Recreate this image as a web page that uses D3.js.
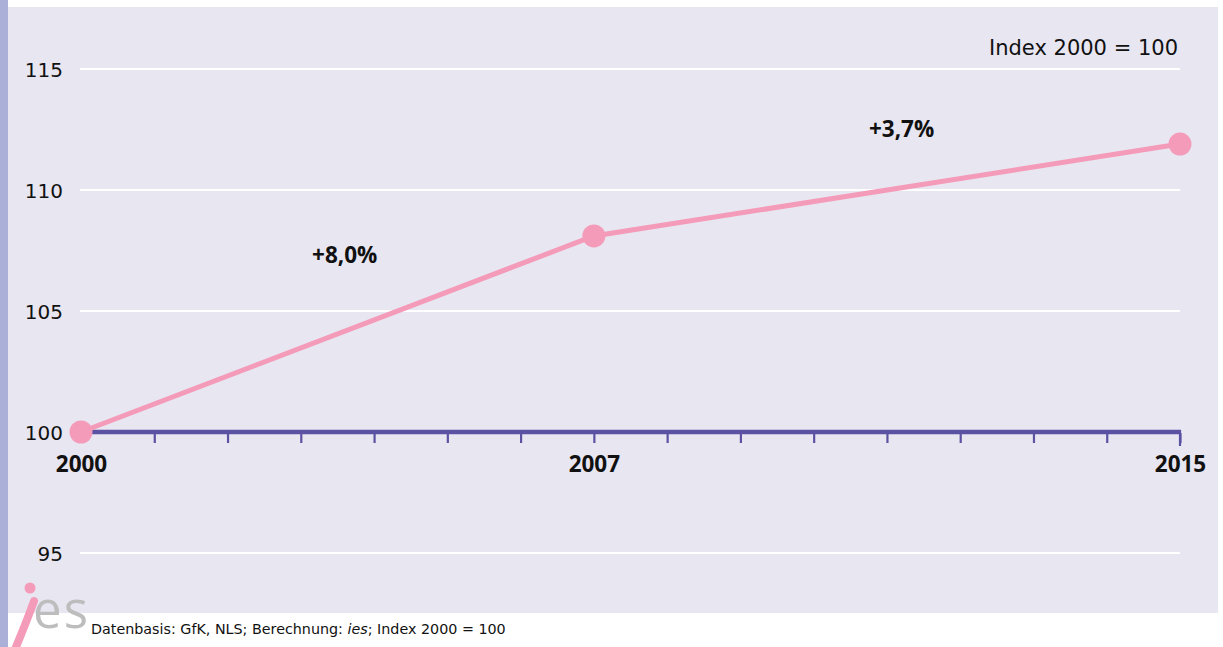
<!DOCTYPE html>
<html>
<head>
<meta charset="utf-8">
<script src="https://cdn.jsdelivr.net/npm/d3@7"></script>
<style>
  html, body { margin: 0; padding: 0; background: #fff; }
  svg { display: block; font-family: "DejaVu Sans", sans-serif; }
</style>
</head>
<body>
<div id="chart"></div>
<script>
// data
const years = [2000, 2007, 2015];
const indexValues = [100, 108.1, 111.9];
const changeLabels = ["+8,0%", "+3,7%"];
const yTicks = [95, 100, 105, 110, 115];
const labelledYears = [2000, 2007, 2015];

const width = 1223;
const height = 647;

const svg = d3.select("#chart").append("svg")
    .attr("width", width)
    .attr("height", height);

// background panel + left strip
svg.append("rect")
    .attr("x", 8).attr("y", 7)
    .attr("width", 1210).attr("height", 606)
    .attr("fill", "#e8e6f1");
svg.append("rect")
    .attr("x", 0).attr("y", 0)
    .attr("width", 8).attr("height", height)
    .attr("fill", "#aab0d8");

const x = d3.scaleLinear().domain([2000, 2015]).range([81, 1180]);
const y = d3.scaleLinear().domain([95, 115]).range([553, 69]);

// gridlines
svg.append("g")
    .selectAll("line")
    .data(yTicks)
    .join("line")
    .attr("x1", 80)
    .attr("x2", 1180)
    .attr("y1", d => y(d))
    .attr("y2", d => y(d))
    .attr("stroke", "#fff")
    .attr("stroke-width", 2);

// y labels
svg.append("g")
    .selectAll("text")
    .data(yTicks)
    .join("text")
    .attr("x", 63)
    .attr("y", d => y(d) + 8)
    .attr("text-anchor", "end")
    .style("font-size", "20px")
    .attr("fill", "#111")
    .text(d => d);

// x axis at 100
const xAxis = d3.axisBottom(x)
    .tickValues(d3.range(2000, 2016))
    .tickSize(10)
    .tickSizeOuter(0)
    .tickFormat(d => labelledYears.includes(d) ? d : "");

const gx = svg.append("g")
    .attr("transform", `translate(0,${y(100) + 1})`)
    .call(xAxis);
gx.select(".domain").remove();
gx.selectAll(".tick line")
    .attr("stroke", "#5b52a3")
    .attr("stroke-width", 2.2);
gx.selectAll(".tick text")
    .attr("y", 23)
    .attr("dy", "0.71em")
    .attr("fill", "#111")
    .style("font-size", "22.5px")
    .style("font-weight", "bold")
    .style("font-family", "'Open Sans', sans-serif");

svg.append("line")
    .attr("x1", x(2000))
    .attr("x2", x(2015) + 1)
    .attr("y1", y(100))
    .attr("y2", y(100))
    .attr("stroke", "#5b52a3")
    .attr("stroke-width", 4.5);
svg.append("line")
    .attr("x1", x(2015))
    .attr("x2", x(2015))
    .attr("y1", y(100) - 2)
    .attr("y2", y(100) + 14)
    .attr("stroke", "#5b52a3")
    .attr("stroke-width", 2.2);

// index line
const line = d3.line()
    .x((d, i) => x(years[i]))
    .y(d => y(d));

svg.append("path")
    .datum(indexValues)
    .attr("d", line)
    .attr("fill", "none")
    .attr("stroke", "#f49bb9")
    .attr("stroke-width", 5);

svg.append("g")
    .selectAll("circle")
    .data(indexValues)
    .join("circle")
    .attr("cx", (d, i) => x(years[i]))
    .attr("cy", d => y(d))
    .attr("r", 11.5)
    .attr("fill", "#f49bb9");

// change labels
const labelPos = [
    { xv: 2003.6, yv: 107.0 },
    { xv: 2011.2, yv: 112.2 }
];
svg.append("g")
    .selectAll("text")
    .data(changeLabels)
    .join("text")
    .attr("x", (d, i) => x(labelPos[i].xv))
    .attr("y", (d, i) => y(labelPos[i].yv))
    .attr("text-anchor", "middle")
    .style("font-size", "22.5px")
    .style("font-weight", "bold")
    .style("font-family", "'Open Sans', sans-serif")
    .attr("fill", "#111")
    .text(d => d);

svg.append("text")
    .attr("x", 1178)
    .attr("y", 55)
    .attr("text-anchor", "end")
    .style("font-size", "21px")
    .attr("fill", "#111")
    .text("Index 2000 = 100");

// ies logo
svg.append("text")
    .attr("x", 33)
    .attr("y", 628)
    .style("font-size", "51px")
    .style("font-family", "'Open Sans', sans-serif")
    .style("letter-spacing", "2px")
    .attr("fill", "#bdbdbd")
    .text("es");
svg.append("path")
    .attr("d", "M34,601 C29,615 23,630 16,647")
    .attr("fill", "none")
    .attr("stroke", "#f49bb9")
    .attr("stroke-width", 8)
    .attr("stroke-linecap", "round");
svg.append("circle")
    .attr("cx", 30).attr("cy", 588).attr("r", 5.5)
    .attr("fill", "#f49bb9");

// footer
const foot = svg.append("text")
    .attr("x", 91)
    .attr("y", 634)
    .style("font-size", "14.3px")
    .attr("fill", "#111");
foot.append("tspan").text("Datenbasis: GfK, NLS; Berechnung: ");
foot.append("tspan").style("font-style", "italic").text("ies");
foot.append("tspan").text("; Index 2000 = 100");
</script>
</body>
</html>
